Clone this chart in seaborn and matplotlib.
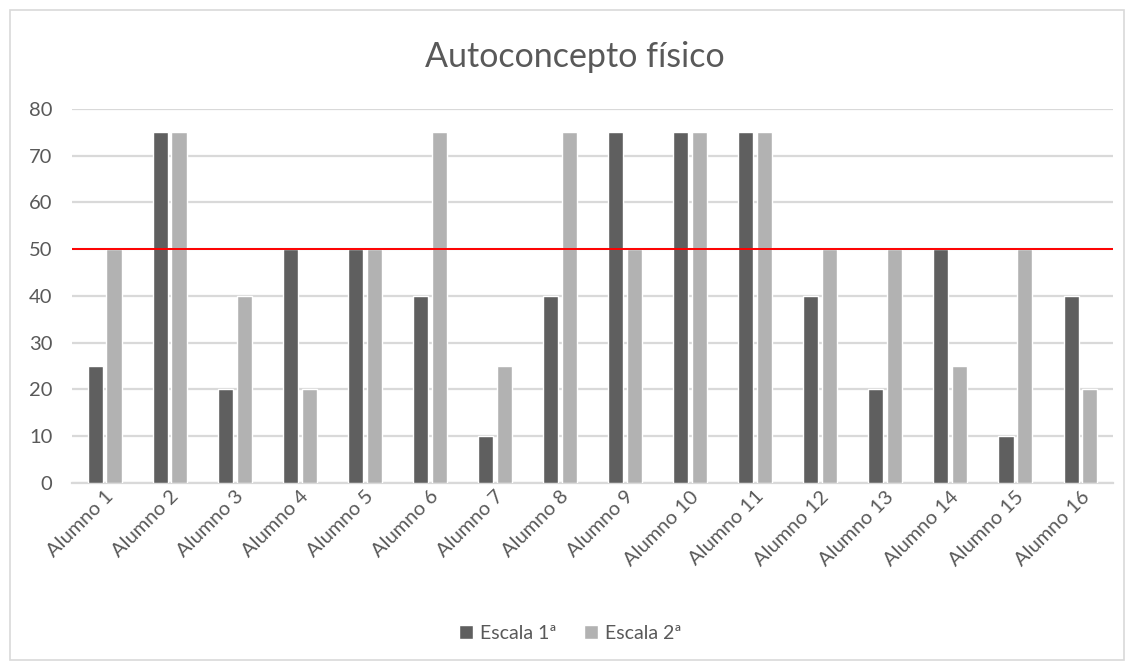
import matplotlib
matplotlib.use("Agg")
import matplotlib.pyplot as plt
from matplotlib.patches import Rectangle
import seaborn as sns
import pandas as pd

alumnos = [f"Alumno {i}" for i in range(1, 17)]
escala_1 = [25, 75, 20, 50, 50, 40, 10, 40, 75, 75, 75, 40, 20, 50, 10, 40]
escala_2 = [50, 75, 40, 20, 50, 75, 25, 75, 50, 75, 75, 50, 50, 25, 50, 20]
series = ["Escala 1ª", "Escala 2ª"]
y_ticks = [0, 10, 20, 30, 40, 50, 60, 70, 80]
referencia = 50

df = pd.DataFrame({
    "Alumno": alumnos * 2,
    "Serie": [series[0]] * len(alumnos) + [series[1]] * len(alumnos),
    "Valor": escala_1 + escala_2,
})

sns.set_theme(style="white")
plt.rcParams["font.family"] = ["Lato", "DejaVu Sans"]

text_color = "#595959"
grid_color = "#d9d9d9"

fig = plt.figure(figsize=(11.34, 6.68), dpi=100)
ax = fig.add_axes([0.0635, 0.277, 0.918, 0.56])

sns.barplot(
    data=df, x="Alumno", y="Valor", hue="Serie",
    palette=["#5f5f5f", "#b2b2b2"], width=0.58, gap=0.2,
    saturation=1, ax=ax, legend=True, zorder=3,
)

ax.set_ylim(0, 80)
ax.set_xlim(-0.5, len(alumnos) - 0.5)
ax.set_yticks(y_ticks)
ax.set_yticklabels([str(v) for v in y_ticks])
ax.yaxis.grid(True, color=grid_color, linewidth=1.6, zorder=0)
ax.set_axisbelow(True)
for side in ["top", "right", "left"]:
    ax.spines[side].set_visible(False)
ax.spines["bottom"].set_color(grid_color)
ax.spines["bottom"].set_linewidth(1.6)

ax.axhline(referencia, color="#ff0000", linewidth=1.4, zorder=4)

ax.set_xlabel("")
ax.set_ylabel("")
ax.tick_params(axis="both", length=0, colors=text_color, labelsize=14.5)
ax.tick_params(axis="y", pad=14)
plt.setp(ax.get_xticklabels(), rotation=45, ha="right", rotation_mode="anchor")

handles, labels = ax.get_legend_handles_labels()
ax.legend_.remove()
fig.legend(
    handles, labels, loc="center", bbox_to_anchor=(0.503, 0.052),
    ncol=2, frameon=False, fontsize=14, handlelength=0.7, handleheight=0.7,
    handletextpad=0.4, columnspacing=1.4, labelcolor=text_color,
)

fig.text(0.507, 0.915, "Autoconcepto físico", ha="center", va="center",
         fontsize=24.5, color=text_color)

fig.patches.append(Rectangle((0.009, 0.012), 0.982, 0.973, transform=fig.transFigure,
                             fill=False, edgecolor="#d9d9d9", linewidth=1.2))

fig.savefig("out.png", dpi=100)
